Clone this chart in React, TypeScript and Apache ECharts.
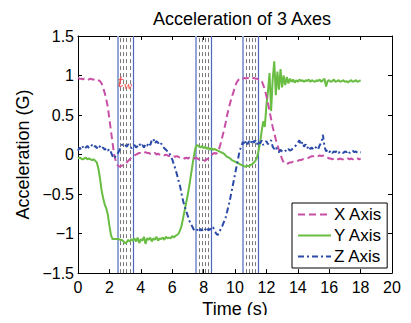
import React, { useEffect, useRef } from "react";
import * as echarts from "echarts";

// sampling times (s), 0.1 s apart
const times: number[] = Array.from({ length: 181 }, (_, i) => Math.round(i) / 10);

const xAxisValues = [
  0.97, 0.96, 0.96, 0.95, 0.96, 0.95, 0.94, 0.95, 0.96, 0.95,
  0.95, 0.94, 0.95, 0.94, 0.93, 0.90, 0.85, 0.78, 0.70, 0.60,
  0.45, 0.30, 0.15, 0.0, -0.08, -0.13, -0.15, -0.15, -0.14, -0.13,
  -0.12, -0.10, -0.08, -0.06, -0.04, -0.02, -0.01, 0.0, 0.01, 0.02,
  0.02, 0.03, 0.02, 0.03, 0.02, 0.02, 0.01, 0.02, 0.01, 0.02,
  0.0, 0.01, 0.0, -0.01, 0.0, -0.01, 0.0, -0.01, -0.02, -0.01,
  -0.02, -0.02, -0.03, -0.02, -0.03, -0.04, -0.03, -0.04, -0.05, -0.04,
  -0.05, -0.04, -0.05, -0.06, -0.05, -0.04, -0.05, -0.06, -0.07, -0.06,
  -0.07, -0.08, -0.06, -0.05, -0.03, -0.01, 0.01, 0.02, 0.01, 0.03,
  0.08, 0.15, 0.23, 0.31, 0.40, 0.50, 0.58, 0.66, 0.73, 0.79,
  0.86, 0.91, 0.94, 0.96, 0.97, 0.96, 0.97, 0.96, 0.97, 0.96,
  0.95, 0.96, 0.97, 0.96, 0.96, 0.95, 0.95, 0.93, 0.88, 0.82,
  0.74, 0.65, 0.55, 0.45, 0.35, 0.27, 0.19, 0.12, 0.06, 0.0,
  -0.06, -0.10, -0.12, -0.12, -0.11, -0.10, -0.10, -0.09, -0.09, -0.08,
  -0.08, -0.07, -0.07, -0.06, -0.06, -0.06, -0.05, -0.04, -0.03, -0.02,
  -0.02, -0.01, -0.02, -0.02, -0.01, -0.02, -0.01, -0.03, -0.04, -0.04,
  -0.05, -0.05, -0.06, -0.05, -0.06, -0.05, -0.06, -0.05, -0.06, -0.06,
  -0.05, -0.06, -0.05, -0.06, -0.05, -0.06, -0.05, -0.06, -0.05, -0.06,
  -0.05,
];

const yAxisValues = [
  -0.05, -0.04, -0.05, -0.06, -0.05, -0.04, -0.06, -0.05, -0.06, -0.07,
  -0.06, -0.08, -0.10, -0.18, -0.30, -0.45, -0.55, -0.63, -0.68, -0.76,
  -0.90, -1.02, -1.07, -1.07, -1.07, -1.07, -1.07, -1.08, -1.08, -1.10,
  -1.12, -1.11, -1.08, -1.10, -1.07, -1.09, -1.06, -1.10, -1.05, -1.12,
  -1.07, -1.09, -1.04, -1.13, -1.06, -1.08, -1.05, -1.10, -1.06, -1.08,
  -1.04, -1.09, -1.06, -1.07, -1.05, -1.08, -1.04, -1.06, -1.05, -1.06,
  -1.03, -1.05, -1.03, -1.02, -1.00, -0.96, -0.90, -0.80, -0.70, -0.60,
  -0.50, -0.38, -0.25, -0.12, 0.0, 0.10, 0.12, 0.10, 0.09, 0.11,
  0.08, 0.10, 0.07, 0.09, 0.06, 0.08, 0.06, 0.07, 0.06, 0.05,
  0.04, 0.03, 0.02, 0.01, -0.01, -0.03, -0.04, -0.05, -0.07, -0.08,
  -0.09, -0.10, -0.11, -0.12, -0.13, -0.14, -0.15, -0.15, -0.14, -0.15,
  -0.13, -0.12, -0.10, -0.08, -0.04, 0.05, 0.15, 0.30, 0.42, 0.35,
  0.62, 0.80, 1.03, 0.55, 0.95, 1.18, 0.75, 1.05, 0.82, 1.08,
  0.85, 1.00, 0.88, 0.98, 0.90, 0.96, 0.92, 0.95, 0.91, 0.94,
  0.92, 0.95, 0.93, 0.94, 0.92, 0.94, 0.93, 0.95, 0.92, 0.94,
  0.93, 0.92, 0.94, 0.93, 0.95, 0.92, 0.94, 0.96, 0.86, 0.93,
  0.94, 0.92, 0.93, 0.95, 0.92, 0.93, 0.94, 0.92, 0.93, 0.94,
  0.92, 0.93, 0.91, 0.93, 0.94, 0.92, 0.93, 0.94, 0.92, 0.93,
  0.94,
];

const zAxisValues = [
  0.05, 0.09, 0.06, 0.10, 0.07, 0.09, 0.11, 0.08, 0.10, 0.12,
  0.09, 0.11, 0.08, 0.12, 0.10, 0.07, 0.09, 0.06, 0.08, 0.05,
  0.07, 0.03, -0.02, -0.05, -0.02, 0.0, 0.04, 0.08, 0.12, 0.14,
  0.12, 0.10, 0.13, 0.11, 0.08, 0.10, 0.12, 0.09, 0.11, 0.14,
  0.10, 0.12, 0.09, 0.13, 0.11, 0.15, 0.12, 0.18, 0.20, 0.14,
  0.17, 0.15, 0.12, 0.14, 0.10, 0.08, 0.06, 0.04, 0.03, -0.02,
  -0.06, -0.12, -0.18, -0.25, -0.33, -0.40, -0.50, -0.59, -0.66, -0.72,
  -0.78, -0.84, -0.88, -0.92, -0.96, -0.97, -0.95, -0.98, -0.94, -0.96,
  -0.93, -0.95, -0.92, -0.96, -0.94, -0.95, -0.92, -0.96, -1.00, -1.02,
  -0.98, -0.94, -0.90, -0.85, -0.80, -0.72, -0.64, -0.55, -0.45, -0.35,
  -0.25, -0.15, -0.05, 0.05, 0.10, 0.16, 0.12, 0.18, 0.13, 0.17,
  0.14, 0.19, 0.15, 0.18, 0.13, 0.17, 0.14, 0.18, 0.12, 0.15,
  0.17, 0.13, 0.16, 0.18, 0.10, 0.07, 0.10, 0.05, 0.03, 0.06,
  0.04, 0.03, 0.05, 0.04, 0.07, 0.05, 0.06, 0.08, 0.10, 0.12,
  0.15, 0.18, 0.12, 0.16, 0.10, 0.13, 0.08, 0.11, 0.07, 0.09,
  0.06, 0.08, 0.10, 0.07, 0.12, 0.15, 0.25, 0.10, 0.04, 0.06,
  0.03, 0.05, 0.02, 0.04, 0.03, 0.05, 0.02, 0.04, 0.03, 0.02,
  0.04, 0.03, 0.05, 0.02, 0.04, 0.05, 0.03, 0.04, 0.02, 0.03,
  0.03,
];

// window bounds (s) and inner dashed guide lines (s)
const windowEdges = [2.5, 3.5, 7.5, 8.5, 10.5, 11.5];
const windowGuides = [2.7, 2.9, 3.1, 3.3, 7.7, 7.9, 8.1, 8.3, 10.7, 10.9, 11.1, 11.3];
const twAnchor = [3.0, 0.92];

const seriesNames = ["X Axis", "Y Axis", "Z Axis"];
const xTicks = { min: 0, max: 20, interval: 2 };
const yTicks = { min: -1.5, max: 1.5, interval: 0.5 };

const FONT = "'Liberation Sans', Arial, Helvetica, sans-serif";

export default function App() {
  const ref = useRef<HTMLDivElement>(null);

  useEffect(() => {
    if (!ref.current) return;
    const chart = echarts.init(ref.current, undefined, { renderer: "svg" });

    const pair = (vals: number[]) => vals.map((v, i) => [times[i], v]);

    const markLineData: any[] = [];
    windowEdges.forEach((x, i) => {
      const left = i % 2 === 0;
      markLineData.push({
        xAxis: x,
        lineStyle: {
          color: left ? "#93a5d6" : "#4d66bb",
          width: left ? 2 : 1.2,
          type: "solid",
        },
      });
    });
    windowGuides.forEach((x) => {
      markLineData.push({
        xAxis: x,
        lineStyle: { color: "#7a7a7a", width: 1, type: [4, 3] },
      });
    });

    const axisCommon = {
      axisLine: { show: true, onZero: false, lineStyle: { color: "#000", width: 1 } },
      axisTick: { show: true, inside: true, length: 4, lineStyle: { color: "#000" } },
      splitLine: { show: false },
    };

    const minus = (v: number) => String(v).replace("-", "\u2212");

    chart.setOption({
      animation: false,
      backgroundColor: "#fff",
      title: {
        text: "Acceleration of 3 Axes",
        left: 237,
        textAlign: "center",
        top: 5,
        textStyle: { fontFamily: FONT, fontSize: 18, fontWeight: "normal", color: "#000" },
      },
      grid: { left: 78, right: 19, top: 36, bottom: 47, containLabel: false },
      legend: {
        data: seriesNames,
        orient: "vertical",
        left: 292,
        top: 203,
        itemWidth: 33,
        itemHeight: 14,
        itemGap: 4,
        padding: [3, 5, 3, 5],
        borderColor: "#000",
        borderWidth: 1,
        backgroundColor: "#fff",
        itemStyle: { opacity: 0 },
        textStyle: { fontFamily: FONT, fontSize: 17, color: "#000", padding: [0, 0, 0, -2] },
      },
      xAxis: [
        {
          type: "value",
          ...xTicks,
          position: "bottom",
          ...axisCommon,
          axisLabel: { fontFamily: FONT, fontSize: 16, color: "#000", margin: 6 },
          name: "Time (s)",
          nameLocation: "middle",
          nameGap: 23,
          nameTextStyle: { fontFamily: FONT, fontSize: 18, color: "#000" },
        },
        {
          type: "value",
          ...xTicks,
          position: "top",
          ...axisCommon,
          axisLabel: { show: false },
        },
      ],
      yAxis: [
        {
          type: "value",
          ...yTicks,
          position: "left",
          ...axisCommon,
          axisLabel: {
            fontFamily: FONT,
            fontSize: 16,
            color: "#000",
            margin: 4,
            formatter: (v: number) => minus(v),
          },
          name: "Acceleration (G)",
          nameLocation: "middle",
          nameGap: 43,
          nameTextStyle: { fontFamily: FONT, fontSize: 18, color: "#000" },
        },
        {
          type: "value",
          ...yTicks,
          position: "right",
          ...axisCommon,
          axisLabel: { show: false },
        },
      ],
      series: [
        {
          name: "X Axis",
          type: "line",
          symbol: "none",
          data: pair(xAxisValues),
          lineStyle: { color: "#c84fa6", width: 2, type: [7, 4] },
          itemStyle: { color: "#c84fa6" },
          z: 3,
          markLine: {
            silent: true,
            symbol: "none",
            label: { show: false },
            data: markLineData,
            z: 1,
          },
        },
        {
          name: "Y Axis",
          type: "line",
          symbol: "none",
          data: pair(yAxisValues),
          lineStyle: { color: "#68bd42", width: 2, type: "solid" },
          itemStyle: { color: "#68bd42" },
          z: 2,
        },
        {
          name: "Z Axis",
          type: "line",
          symbol: "none",
          data: pair(zAxisValues),
          lineStyle: { color: "#2b4aa8", width: 2, type: [6, 3, 2, 3] },
          itemStyle: { color: "#2b4aa8" },
          z: 4,
        },
      ],
    });

    const p = chart.convertToPixel({ xAxisIndex: 0, yAxisIndex: 0 }, twAnchor) as number[];
    chart.setOption({
      graphic: [
        {
          type: "text",
          x: p[0],
          y: p[1],
          z: 100,
          style: {
            text: "{t|t}{w|w}",
            align: "center",
            verticalAlign: "middle",
            rich: {
              t: { fontFamily: "'DejaVu Serif', serif", fontStyle: "italic", fontSize: 15, fill: "#ef4a4a", color: "#ef4a4a" },
              w: { fontFamily: "'DejaVu Serif', serif", fontStyle: "italic", fontSize: 10, fill: "#ef4a4a", color: "#ef4a4a", padding: [8, 0, 0, 0] },
            },
          },
        },
      ],
    });

    return () => chart.dispose();
  }, []);

  return <div ref={ref} style={{ width: 411, height: 323, margin: -8 }} />;
}
